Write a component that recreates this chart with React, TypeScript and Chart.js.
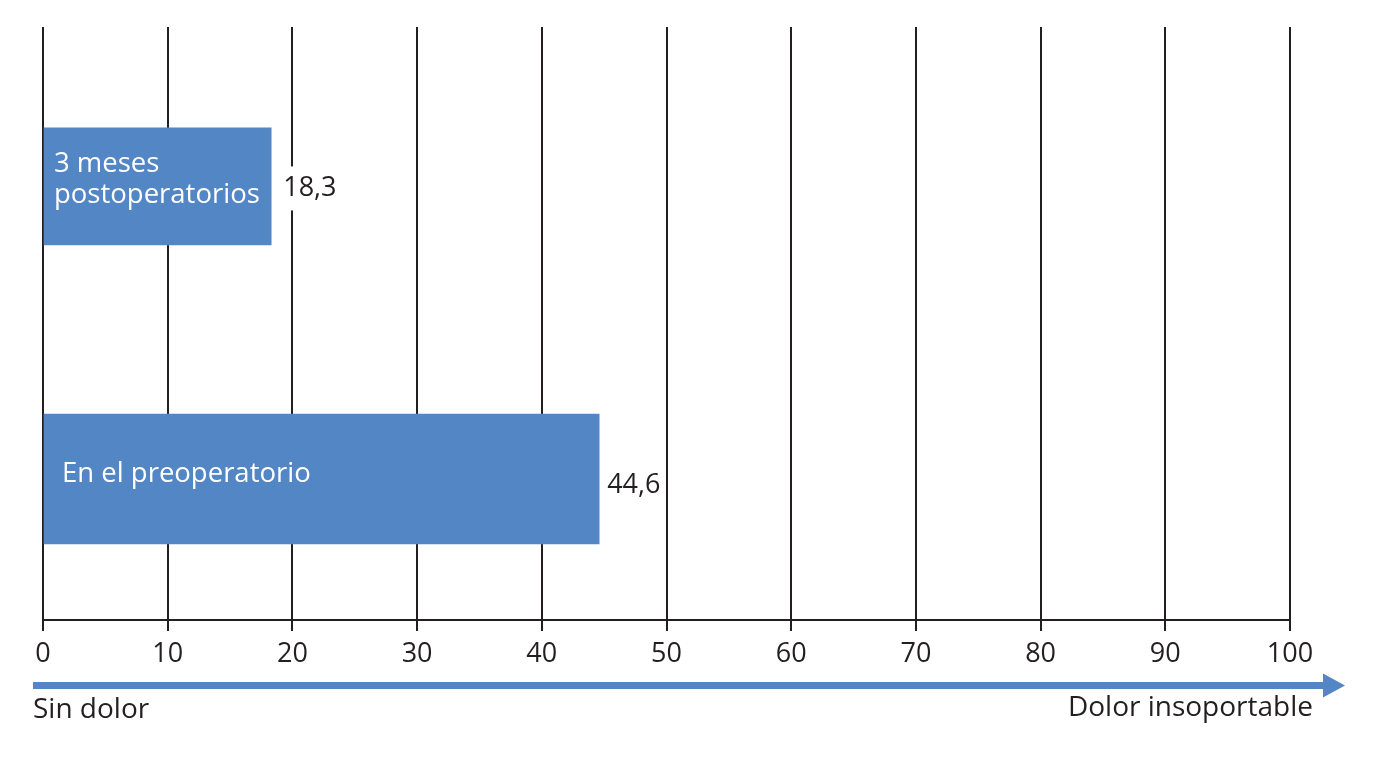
import React, { useEffect, useRef } from "react";
import { Chart, registerables } from "chart.js";

Chart.register(...registerables);

const categories = ["3 meses postoperatorios", "En el preoperatorio"];
const categoryLines = [["3 meses", "postoperatorios"], ["En el preoperatorio"]];
const values = [18.3, 44.6];
const valueLabels = ["18,3", "44,6"];
const tickValues = [0, 10, 20, 30, 40, 50, 60, 70, 80, 90, 100];
const axisLeftLabel = "Sin dolor";
const axisRightLabel = "Dolor insoportable";

const BLUE = "#5286c4";
const INK = "#231f20";
const FONT = "'Open Sans', 'Noto Sans', sans-serif";

export default function App() {
  const ref = useRef<HTMLCanvasElement | null>(null);

  useEffect(() => {
    if (!ref.current) return;
    const labelPlugin = {
      id: "labels",
      afterDatasetsDraw(chart: any) {
        const ctx = chart.ctx;
        const xs = chart.scales.x;
        ctx.save();
        chart.data.datasets.forEach((ds: any, i: number) => {
          const el = chart.getDatasetMeta(i).data[0];
          if (!el) return;
          const top = el.y - el.height / 2;
          const barLeft = el.base;
          // inner labels
          ctx.fillStyle = "#ffffff";
          ctx.textBaseline = "alphabetic";
          ctx.textAlign = "left";
          ctx.font = `27.5px ${FONT}`;
          const lines = categoryLines[i];
          if (lines.length === 2) {
            ctx.fillText(lines[0], barLeft + 10, top + 44);
            ctx.fillText(lines[1], barLeft + 10, top + 75);
          } else {
            ctx.fillText(lines[0], barLeft + 18, top + 68);
          }
          // value label
          ctx.font = `27px ${FONT}`;
          const txt = valueLabels[i];
          const w = ctx.measureText(txt).width;
          const lx = el.x + (i === 0 ? 12 : 8);
          const ly = i === 0 ? el.y + 2 : el.y + 6;
          if (i === 0) {
            ctx.fillStyle = "#ffffff";
            ctx.fillRect(lx - 4, ly - 22, w + 8, 44);
          }
          ctx.fillStyle = INK;
          ctx.textBaseline = "middle";
          ctx.fillText(txt, lx, ly);
        });
        // arrow
        const ay = 685.5;
        const x0 = xs.left - 10;
        const x1 = xs.right + 55;
        ctx.fillStyle = BLUE;
        ctx.fillRect(x0, ay - 3.5, x1 - 22 - x0, 7);
        ctx.beginPath();
        ctx.moveTo(x1 - 22, ay - 12);
        ctx.lineTo(x1, ay);
        ctx.lineTo(x1 - 22, ay + 12);
        ctx.closePath();
        ctx.fill();
        ctx.fillStyle = INK;
        ctx.font = `28px ${FONT}`;
        ctx.textBaseline = "alphabetic";
        ctx.textAlign = "left";
        ctx.fillText(axisLeftLabel, x0, 718);
        ctx.textAlign = "right";
        ctx.fillText(axisRightLabel, xs.right + 23, 716);
        ctx.restore();
      },
    };

    const chart = new Chart(ref.current, {
      type: "bar",
      data: {
        datasets: categories.map((c, i) => ({
          label: c,
          data: [{ x: values[i], y: categories.length - i }],
          backgroundColor: BLUE,
          borderWidth: 0,
          barThickness: i === 0 ? 117 : 130,
          grouped: false,
        })),
      },
      options: {
        indexAxis: "y",
        animation: false,
        responsive: false,
        maintainAspectRatio: false,
        layout: { padding: { left: 43, right: 89, top: 27, bottom: 0 } },
        plugins: { legend: { display: false }, tooltip: { enabled: false } },
        scales: {
          y: {
            type: "linear",
            display: false,
            offset: false,
            min: 0.518,
            max: 2.545,
          },
          x: {
            type: "linear",
            min: 0,
            max: 100,
            afterFit(scale: any) {
              scale.height = 138;
            },
            afterBuildTicks(scale: any) {
              scale.ticks = tickValues.map((v) => ({ value: v }));
            },
            grid: {
              color: INK,
              lineWidth: 2,
              tickLength: 11,
              drawOnChartArea: true,
            },
            border: { display: true, color: INK, width: 2 },
            ticks: {
              color: INK,
              font: { family: FONT, size: 27 },
              padding: 7,
              maxRotation: 0,
              autoSkip: false,
            },
          },
        },
      },
      plugins: [labelPlugin],
    } as any);
    return () => chart.destroy();
  }, []);

  return (
    <div style={{ position: "absolute", left: 0, top: 0, width: 1379, height: 758, background: "#fff" }}>
      <canvas ref={ref} width={1379} height={758} style={{ width: 1379, height: 758 }} />
    </div>
  );
}
